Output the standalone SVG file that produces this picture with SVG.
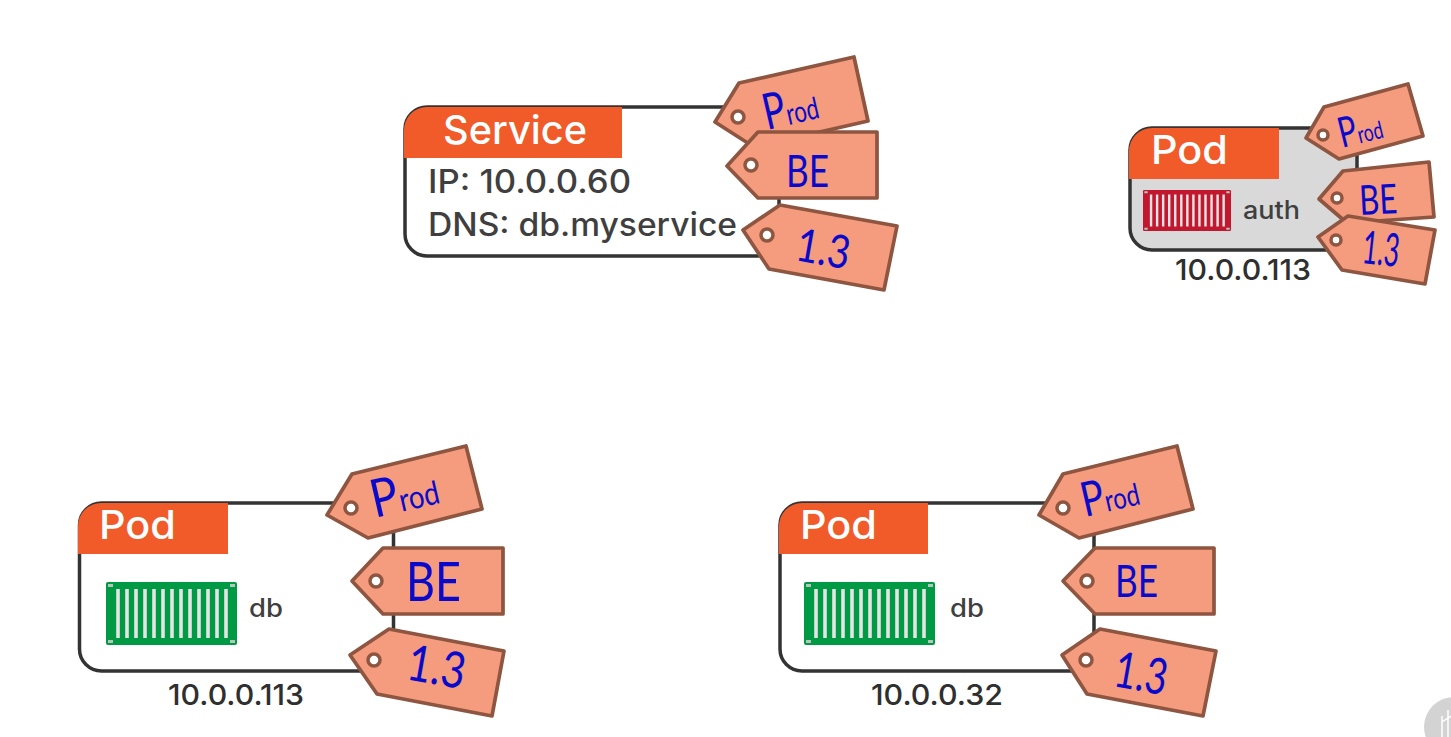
<svg xmlns="http://www.w3.org/2000/svg" width="1451" height="737" viewBox="0 0 1451 737">
<style>
text{font-family:Inter,"Liberation Sans",sans-serif}
.box{fill:#fff;stroke:#333;stroke-width:3.5}
.hdr{fill:#f15a29}
.ttl{fill:#fff;font-size:39px;font-weight:500}
.lbl{fill:#3f3f3f;font-size:32px;font-weight:500}
.ip{fill:#2f2f2f;font-size:29px;font-weight:500}
.cn{fill:#3f3f3f;font-size:25px;font-weight:500}
.tag{fill:#f59b7e;stroke:#8e5540;stroke-width:3.7;stroke-linejoin:round}
.hole{fill:#fff;stroke:#8e5540;stroke-width:3.5}
.hw{fill:#0a0acb;font-family:Lato,"Liberation Sans",sans-serif;font-weight:400}
.slat{fill:none;stroke:#e4e4e4;stroke-width:3.6}
.cr{fill:#b9c4bd}
.g{fill:#009a44}
</style>
<defs>
<g id="slats">
<path class="slat" d="M12 7V56M21 7V56M30 7V56M39 7V56M48 7V56M57 7V56M66 7V56M75 7V56M84 7V56M93 7V56M102 7V56M111 7V56M120 7V56"/>
<path class="cr" d="M2 2h5v3h-5zM124 2h5v3h-5zM2 58h5v3h-5zM124 58h5v3h-5z"/>
</g>
</defs>

<g id="service">
<rect class="box" x="405" y="107" width="374" height="149" rx="22"/>
<path class="hdr" d="M404 158V130a23 23 0 0 1 23-23H622V158Z"/>
<text class="ttl" x="443" y="144" textLength="144" lengthAdjust="spacingAndGlyphs">Service</text>
<text class="lbl" x="428" y="193" textLength="203" lengthAdjust="spacingAndGlyphs">IP: 10.0.0.60</text>
<text class="lbl" x="428" y="236" textLength="309" lengthAdjust="spacingAndGlyphs">DNS: db.myservice</text>
<g id="service-tag-prod"><polygon class="tag" points="715,122 739,83 854,57 868,121 754,147"/><circle class="hole" cx="738" cy="117" r="6"/><text class="hw" transform="translate(767 130) rotate(-13)" font-size="50" textLength="55" lengthAdjust="spacingAndGlyphs">P<tspan font-size="30">rod</tspan></text></g>
<g id="service-tag-be"><polygon class="tag" points="727,166 758,132 877,132 877,198 758,198"/><circle class="hole" cx="751" cy="165" r="6"/><text class="hw" x="786" y="187" font-size="44" textLength="43" lengthAdjust="spacingAndGlyphs">BE</text></g>
<g id="service-tag-ver"><polygon class="tag" points="743,230 780,205 897,226 884,290 769,269"/><circle class="hole" cx="767" cy="235" r="6"/><text class="hw" transform="translate(794 260) rotate(10)" font-size="46" textLength="54" lengthAdjust="spacingAndGlyphs">1.3</text></g>
</g>

<g id="pod-auth">
<rect class="box" style="fill:#d9d9d9" x="1130" y="128" width="227" height="122" rx="22"/>
<path class="hdr" d="M1129 179V151a23 23 0 0 1 23-23H1279V179Z"/>
<text class="ttl" x="1151" y="164" textLength="77" lengthAdjust="spacingAndGlyphs">Pod</text>
<g transform="translate(1143 190) scale(.672 .651)"><rect width="131" height="63" rx="2" fill="#c2182f"/><use href="#slats"/></g>
<text class="cn" x="1243" y="219" textLength="57" lengthAdjust="spacingAndGlyphs">auth</text>
<text class="ip" x="1175" y="280" textLength="136" lengthAdjust="spacingAndGlyphs">10.0.0.113</text>
<g id="auth-tag-prod"><polygon class="tag" points="1306,138 1324,107 1408,84 1423,136 1339,159"/><circle class="hole" cx="1323" cy="135" r="5"/><text class="hw" transform="translate(1342 148) rotate(-14)" font-size="42" textLength="44" lengthAdjust="spacingAndGlyphs">P<tspan font-size="24">rod</tspan></text></g>
<g id="auth-tag-be"><polygon class="tag" points="1319,199 1343,171 1429,162 1434,217 1347,223"/><circle class="hole" cx="1337" cy="198" r="5"/><text class="hw" transform="translate(1360 215) rotate(-3)" font-size="41" textLength="38" lengthAdjust="spacingAndGlyphs">BE</text></g>
<g id="auth-tag-ver"><polygon class="tag" points="1318,237 1348,216 1435,230 1425,284 1342,270"/><circle class="hole" cx="1336" cy="240" r="5"/><text class="hw" transform="translate(1361 263) rotate(6)" font-size="46" textLength="37" lengthAdjust="spacingAndGlyphs">1.3</text></g>
</g>

<g id="pod-db-1">
<rect class="box" x="79.500" y="503" width="314" height="168" rx="22"/>
<path class="hdr" d="M78 554V526a23 23 0 0 1 23-23H228V554Z"/>
<text class="ttl" x="99" y="539" textLength="77" lengthAdjust="spacingAndGlyphs">Pod</text>
<g transform="translate(106 582)"><rect class="g" width="131" height="63" rx="2"/><use href="#slats"/></g>
<text class="cn" x="249" y="617" textLength="34" lengthAdjust="spacingAndGlyphs">db</text>
<text class="ip" x="168" y="705" textLength="136" lengthAdjust="spacingAndGlyphs">10.0.0.113</text>
<g id="db1-tag-prod"><polygon class="tag" points="327,515 352,474 466,446 482,509 368,538"/><circle class="hole" cx="351" cy="508" r="6"/><text class="hw" transform="translate(375 518) rotate(-13)" font-size="53" textLength="68" lengthAdjust="spacingAndGlyphs">P<tspan font-size="32">rod</tspan></text></g>
<g id="db1-tag-be"><polygon class="tag" points="352,581 383,548 503,548 503,614 383,614"/><circle class="hole" cx="376" cy="581" r="6"/><text class="hw" x="406" y="601" font-size="54" textLength="55" lengthAdjust="spacingAndGlyphs">BE</text></g>
<g id="db1-tag-ver"><polygon class="tag" points="350,655 389,629 504,651 492,716 377,694"/><circle class="hole" cx="374" cy="660" r="6"/><text class="hw" transform="translate(405 679) rotate(10)" font-size="50" textLength="58" lengthAdjust="spacingAndGlyphs">1.3</text></g>
</g>

<g id="pod-db-2">
<rect class="box" x="780" y="503" width="314" height="168" rx="22"/>
<path class="hdr" d="M779 554V526a23 23 0 0 1 23-23H928V554Z"/>
<text class="ttl" x="800" y="539" textLength="77" lengthAdjust="spacingAndGlyphs">Pod</text>
<g transform="translate(804 582)"><rect class="g" width="131" height="63" rx="2"/><use href="#slats"/></g>
<text class="cn" x="950" y="617" textLength="34" lengthAdjust="spacingAndGlyphs">db</text>
<text class="ip" x="871" y="705" textLength="132" lengthAdjust="spacingAndGlyphs">10.0.0.32</text>
<g id="db2-tag-prod"><polygon class="tag" points="1039,515 1063,474 1177,446 1193,509 1079,538"/><circle class="hole" cx="1063" cy="508" r="6"/><text class="hw" transform="translate(1085 517) rotate(-13)" font-size="48" textLength="58" lengthAdjust="spacingAndGlyphs">P<tspan font-size="30">rod</tspan></text></g>
<g id="db2-tag-be"><polygon class="tag" points="1063,581 1095,548 1214,548 1214,614 1095,614"/><circle class="hole" cx="1087" cy="581" r="6"/><text class="hw" x="1115" y="597" font-size="44" textLength="43" lengthAdjust="spacingAndGlyphs">BE</text></g>
<g id="db2-tag-ver"><polygon class="tag" points="1062,655 1100,629 1216,651 1203,716 1087,694"/><circle class="hole" cx="1086" cy="660" r="6"/><text class="hw" transform="translate(1112 686) rotate(10)" font-size="50" textLength="53" lengthAdjust="spacingAndGlyphs">1.3</text></g>
</g>

<circle cx="1454" cy="727" r="30" fill="#d3d3d3"/>
<path d="M1442 716V737M1448 710V737M1442 722L1451 716" fill="none" stroke="#fff" stroke-width="1.5"/>
</svg>
